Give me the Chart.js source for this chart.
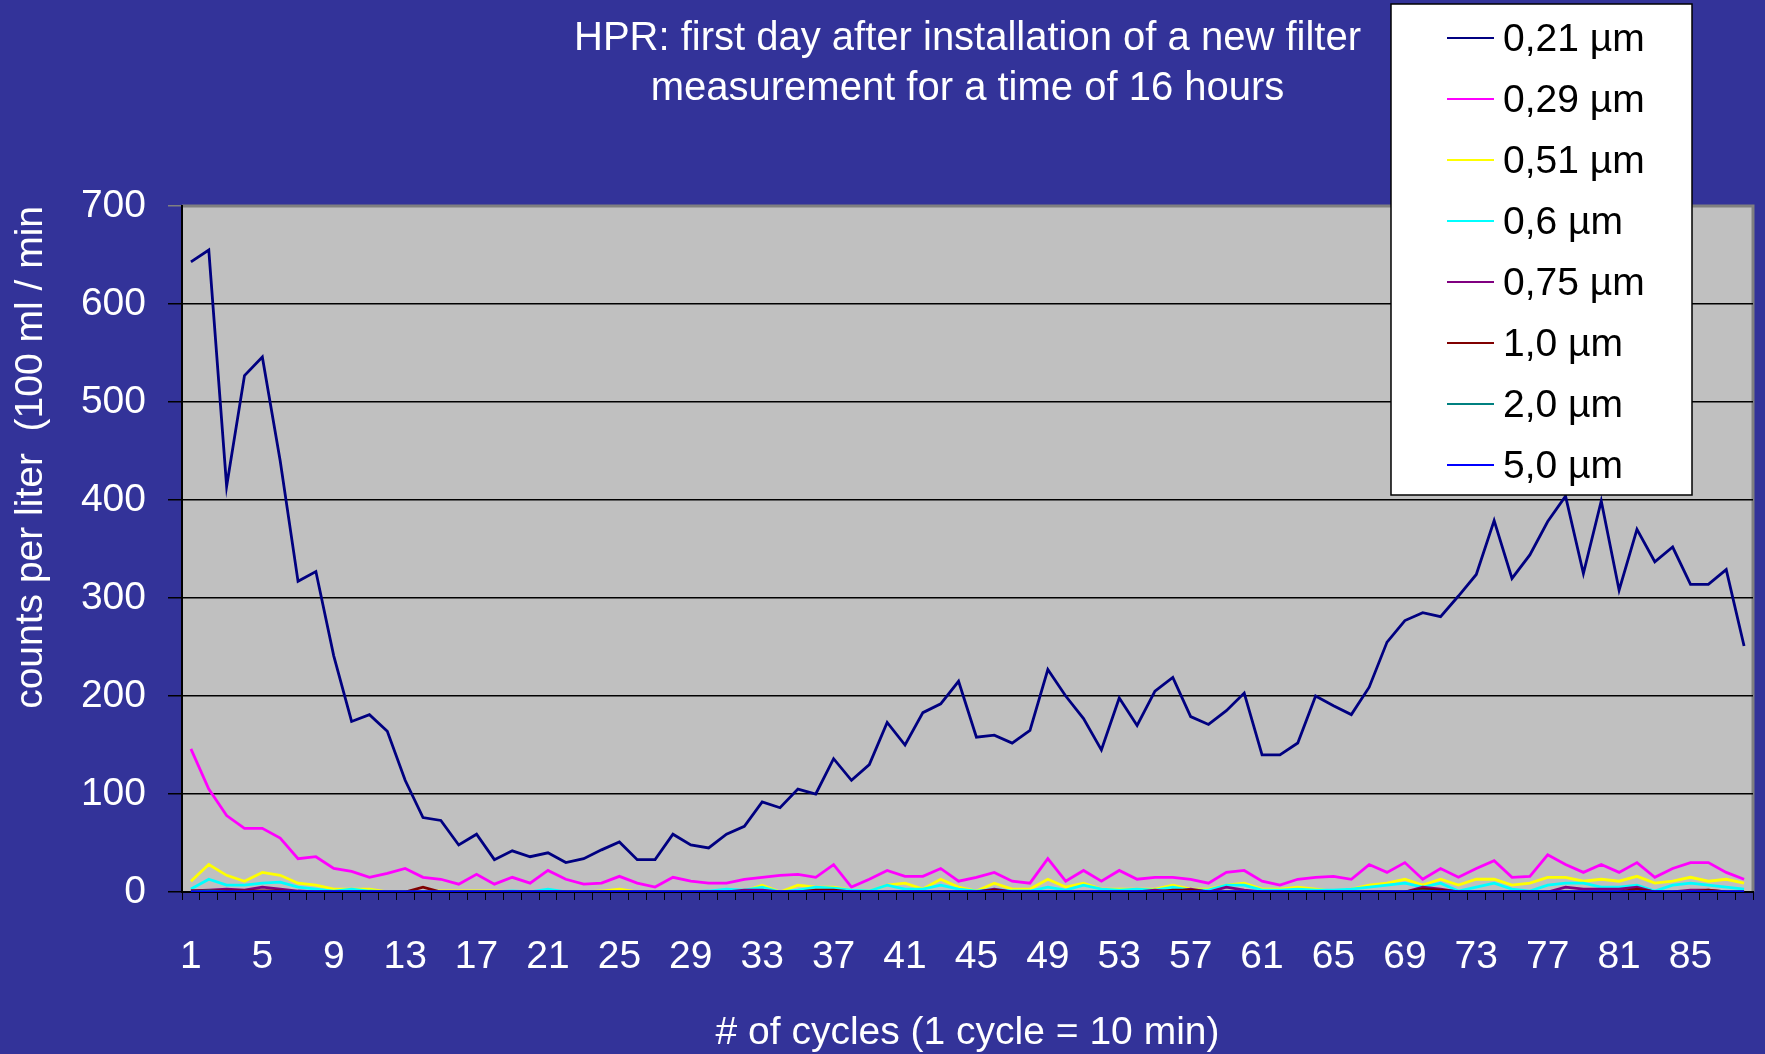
<!DOCTYPE html>
<html>
<head>
<meta charset="utf-8">
<title>HPR filter measurement</title>
<script src="https://cdn.jsdelivr.net/npm/chart.js@4.4.1/dist/chart.umd.min.js"></script>
<style>
  body { margin: 0; background: #333399; }
  canvas { display: block; }
</style>
</head>
<body>
<canvas id="hpr" width="1765" height="1054"></canvas>
<script>

//cycles 1..88
var cycles = ["1","2","3","4","5","6","7","8","9","10","11","12","13","14","15","16","17","18","19","20","21","22",
  "23","24","25","26","27","28","29","30","31","32","33","34","35","36","37","38","39","40","41","42","43","44",
  "45","46","47","48","49","50","51","52","53","54","55","56","57","58","59","60","61","62","63","64","65","66",
  "67","68","69","70","71","72","73","74","75","76","77","78","79","80","81","82","83","84","85","86","87","88"];
var tickLabels = ["1","5","9","13","17","21","25","29","33","37","41","45","49","53","57","61","65","69","73","77","81","85"];
var seriesNames = ["0,21 µm", "0,29 µm", "0,51 µm", "0,6 µm", "0,75 µm", "1,0 µm", "2,0 µm", "5,0 µm"];
var seriesColors = ["#000080", "#ff00ff", "#ffff00", "#00ffff", "#800080", "#800000", "#008080", "#0000ff"];

var s021 = [643,655,414,527,546,440,317,327,241,174,181,164,114,76,73,48,59,33,42,36,40,30,
  34,43,51,33,33,59,48,45,59,67,92,86,105,100,136,114,130,173,150,183,192,215,
  158,160,152,165,227,200,177,145,198,170,205,219,179,171,185,203,140,140,152,200,190,181,
  209,255,277,285,281,302,324,379,320,344,378,404,325,399,308,370,337,352,314,314,329,251];
var s029 = [146,105,78,65,65,55,34,36,24,21,15,19,24,15,13,8,18,8,15,9,22,13,
  8,9,16,9,5,15,11,9,9,13,15,17,18,15,28,5,13,22,16,16,24,11,
  15,20,11,9,34,11,22,11,22,13,15,15,13,9,20,22,11,7,13,15,16,13,
  28,20,30,13,24,15,24,32,15,16,38,28,20,28,20,30,15,24,30,30,20,13];
var s051 = [11,28,17,11,20,17,9,7,3,3,3,0,0,0,1,1,1,1,0,0,0,0,
  0,1,3,0,0,0,0,0,0,1,7,0,7,5,5,2,1,7,9,3,13,5,
  1,9,3,3,13,5,9,3,3,3,3,7,3,3,7,9,3,3,5,3,1,3,
  7,9,13,7,13,7,13,13,7,9,15,15,11,13,11,16,9,11,15,11,13,9];
var s06 = [3,13,7,7,9,10,5,3,1,3,1,0,0,0,0,0,0,0,1,0,3,0,
  0,0,0,0,0,0,0,1,3,2,5,0,2,5,4,2,1,7,3,3,7,3,
  1,3,1,1,5,2,7,3,2,3,2,5,2,2,7,7,2,2,3,2,2,3,
  5,7,9,5,9,1,5,9,3,1,7,9,9,5,5,7,1,7,9,7,5,3];
var s075 = [1,2,3,2,5,3,1,0,0,0,0,0,0,0,0,0,0,0,0,0,0,0,
  0,0,0,0,0,0,0,0,0,2,2,0,0,0,0,0,0,0,0,0,0,0,
  0,3,0,0,0,0,0,0,0,0,2,0,3,0,5,2,0,0,0,0,0,0,
  0,0,0,5,3,0,0,0,0,0,0,5,3,3,3,5,0,0,2,2,0,0];
var s10 = [1,1,1,1,1,1,0,0,0,0,0,0,0,5,0,0,0,0,0,0,0,0,
  0,0,0,0,0,0,0,0,0,0,0,0,0,2,2,0,0,0,0,0,0,0,
  0,2,0,0,0,0,0,0,0,0,0,2,2,0,0,0,0,0,0,0,0,0,
  0,0,0,3,2,0,0,0,0,0,0,0,0,0,0,3,0,0,0,2,0,0];
var s20 = [0,1,0,0,0,0,0,0,0,0,0,0,0,0,0,0,0,0,0,0,0,0,
  0,0,0,0,0,0,0,0,0,0,0,0,0,0,0,0,0,0,0,0,0,0,
  0,0,0,0,0,0,0,0,0,0,0,0,0,0,0,0,0,0,0,0,0,0,
  0,0,0,1,0,0,0,0,0,0,0,0,0,0,0,0,0,0,0,0,0,0];
var s50 = [0,0,0,0,0,0,0,0,0,0,0,0,0,0,0,0,0,0,0,0,0,0,
  0,0,0,0,0,0,0,0,0,0,0,0,0,0,0,0,0,0,0,0,0,0,
  0,0,0,0,0,0,0,0,0,0,0,0,0,0,0,0,0,0,0,0,0,0,
  0,0,0,0,0,0,0,0,0,0,0,0,0,0,0,0,0,0,0,0,0,0];
var seriesValues = [s021, s029, s051, s06, s075, s10, s20, s50];

var fontFamily = "'Liberation Sans', Arial, sans-serif";
Chart.defaults.font.family = fontFamily;
Chart.defaults.color = "#ffffff";

//grey plot area with grey top/right frame
var plotBackground = {
  id: "plotBackground",
  beforeDraw: function(chart) {
    var a = chart.chartArea;
    var ctx = chart.ctx;
    ctx.save();
    ctx.fillStyle = "#c0c0c0";
    ctx.fillRect(a.left, a.top, a.right - a.left, a.bottom - a.top);
    ctx.strokeStyle = "#808080";
    ctx.lineWidth = 3;
    ctx.beginPath();
    ctx.moveTo(a.left, a.top);
    ctx.lineTo(a.right, a.top);
    ctx.lineTo(a.right, a.bottom);
    ctx.stroke();
    ctx.restore();
  }
};

//white legend box over the top right corner
var boxLegend = {
  id: "boxLegend",
  afterDraw: function(chart) {
    var ctx = chart.ctx;
    ctx.save();
    ctx.fillStyle = "#ffffff";
    ctx.fillRect(1391, 4, 301, 491);
    ctx.strokeStyle = "#000000";
    ctx.lineWidth = 1.5;
    ctx.strokeRect(1391, 4, 301, 491);
    ctx.font = "39px " + fontFamily;
    ctx.textBaseline = "middle";
    chart.data.datasets.forEach(function(ds, i) {
      var y = 38 + i * 61;
      ctx.strokeStyle = ds.borderColor;
      ctx.lineWidth = 2;
      ctx.beginPath();
      ctx.moveTo(1447, y);
      ctx.lineTo(1494, y);
      ctx.stroke();
      ctx.fillStyle = "#000000";
      ctx.fillText(ds.label, 1503, y + 2);
    });
    ctx.restore();
  }
};

var datasets = [];
for (var i = 0; i < seriesNames.length; i++) {
  datasets.push({
    label: seriesNames[i],
    data: seriesValues[i],
    borderColor: seriesColors[i],
    backgroundColor: seriesColors[i],
    borderWidth: 2.8,
    pointRadius: 0,
    tension: 0,
    fill: false,
    order: seriesNames.length - i
  });
}

new Chart(document.getElementById("hpr"), {
  type: "line",
  data: { labels: cycles, datasets: datasets },
  plugins: [plotBackground, boxLegend],
  options: {
    responsive: false,
    animation: false,
    layout: { padding: { left: 0, right: 12, top: 0, bottom: 0 } },
    plugins: {
      legend: { display: false },
      tooltip: { enabled: false },
      title: {
        display: true,
        fullSize: false,
        text: ["HPR: first day after installation of a new filter", "measurement for a time of 16 hours"],
        color: "#ffffff",
        font: { size: 40, weight: "normal", lineHeight: 1.25 },
        padding: { top: 14, bottom: 92 }
      }
    },
    scales: {
      x: {
        offset: true,
        grid: { offset: true, drawOnChartArea: false, drawTicks: true, tickLength: 8, color: "#000000" },
        border: { color: "#000000", width: 2 },
        ticks: {
          autoSkip: false, maxRotation: 0, minRotation: 0, padding: 34,
          color: "#ffffff", font: { size: 39 },
          callback: function(value, index) {
            var lab = this.getLabelForValue(value);
            return tickLabels.indexOf(lab) >= 0 ? lab : "";
          }
        },
        title: {
          display: true, text: "# of cycles (1 cycle = 10 min)", color: "#ffffff",
          font: { size: 39, lineHeight: 1.05 }, padding: { top: 0, bottom: 0 }
        },
        afterFit: function(scale) {
          scale.height = 162;
          scale.paddingLeft = 0;
          scale.paddingRight = 0;
        }
      },
      y: {
        min: 0, max: 700,
        grid: {
          color: function(c) { return c.tick && c.tick.value === 700 ? "#808080" : "#000000"; },
          lineWidth: 1.5, tickLength: 14
        },
        border: { color: "#000000", width: 2 },
        ticks: { stepSize: 100, padding: 22, color: "#ffffff", font: { size: 39 } },
        title: {
          display: true, align: "end", text: "counts per liter  (100 ml / min", color: "#ffffff",
          font: { size: 39 }, padding: { top: 8, bottom: 0 }
        },
        afterFit: function(scale) { scale.width = 182; }
      }
    }
  }
});

</script>
</body>
</html>
